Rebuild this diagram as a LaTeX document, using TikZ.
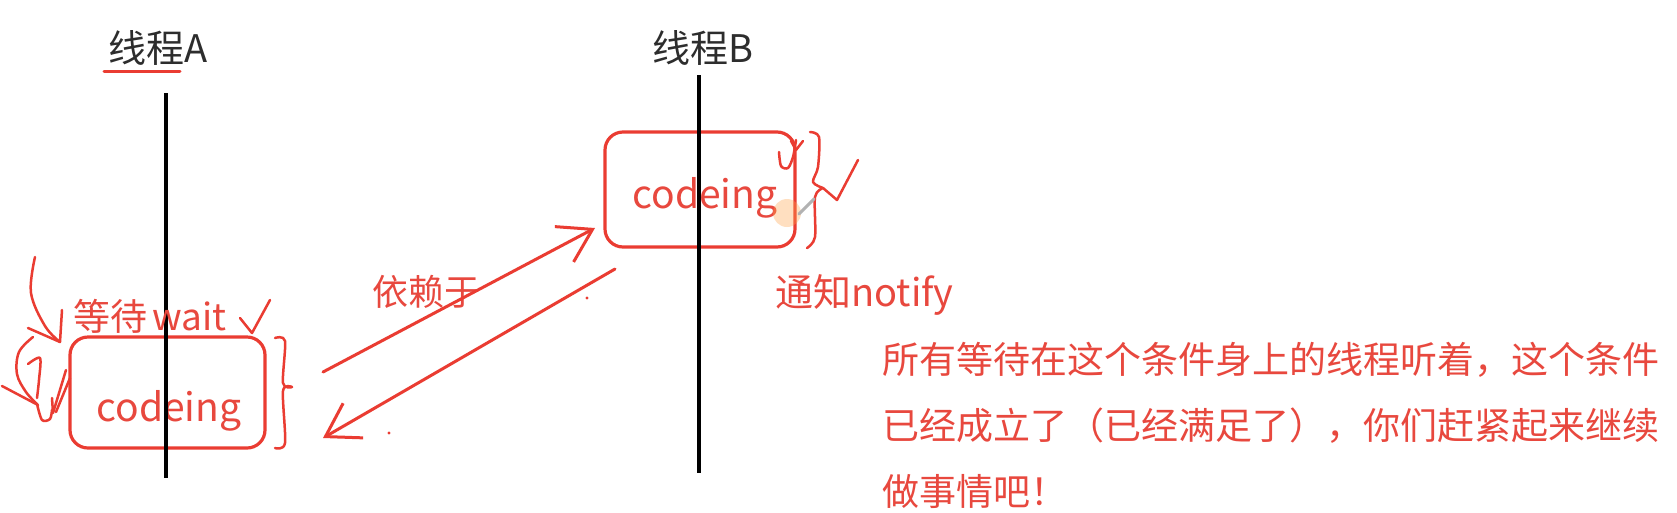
\documentclass[tikz,border=0pt]{standalone}
\usepackage{fontspec}
\setmainfont{Noto Sans CJK SC}
\usetikzlibrary{arrows.meta}
\definecolor{pen}{RGB}{234,60,50}
\definecolor{txtred}{RGB}{232,72,62}
\definecolor{dark}{RGB}{45,45,45}
\begin{document}
\begin{tikzpicture}[x=1pt,y=-1pt,
  box/.style={draw=pen, line width=3.2pt, rounded corners=18pt, inner sep=0pt},
  thread/.style={draw=black, line width=3.5pt},
  hand/.style={draw=pen, line width=2.5pt, line cap=round, line join=round},
  lbl/.style={text=txtred, font=\fontsize{38}{44}\selectfont, inner sep=0pt},
  code/.style={text=txtred, font=\fontsize{39}{44}\selectfont, inner sep=0pt, anchor=base},
  ttl/.style={text=dark, font=\fontsize{38}{44}\selectfont, inner sep=0pt, anchor=base},
  para/.style={text=txtred, font=\fontsize{37}{44}\selectfont, inner sep=0pt, anchor=base west},
  barbarrow/.style={draw=pen, line width=3pt, line cap=round, -{Straight Barb[length=32pt,width=40pt,line width=3pt]}}
]
\useasboundingbox (0,0) rectangle (1677,512);
\fill[white] (0,0) rectangle (1677,512);

% titles
\node[ttl] (tA) at (158,62) {线程A};
\node[ttl] (tB) at (703,62) {线程B};
\draw[pen, line width=3pt, line cap=round] (104,71) -- (180,71);

% boxes
\node[box, minimum width=195pt, minimum height=111pt] (boxA) at (167.5,392.5) {};
\node[box, minimum width=190pt, minimum height=115pt] (boxB) at (700,189.5) {};
\node[code] (cA) at (169,421) {codeing};
\node[code] (cB) at (705,208) {codeing};

% thread lines
\coordinate (a1) at (166,93);
\coordinate (a2) at (166,478);
\coordinate (b1) at (699,75);
\coordinate (b2) at (699,473);
\draw[thread] (a1) -- (a2);
\draw[thread] (b1) -- (b2);

% labels
\node[lbl, anchor=base, font=\fontsize{37}{42}\selectfont] (wait) at (150,330) {等待\hspace{5pt}wait};
\node[lbl, anchor=base, font=\fontsize{36}{42}\selectfont] (dep) at (426,305) {依赖于};
\node[lbl, anchor=base west] (notify) at (775,306) {通知notify};
\node[para] (p1) at (882,373) {所有等待在这个条件身上的线程听着，这个条件};
\node[para] (p2) at (882,439) {已经成立了（已经满足了），你们赶紧起来继续};
\node[para] (p3) at (882,505) {做事情吧！};

% arrows between boxes
\coordinate (up0) at (323,372);
\coordinate (up1) at (595,228);
\coordinate (dn0) at (615,269);
\coordinate (dn1) at (323,438);
\draw[barbarrow] (up0) -- (up1);
\draw[barbarrow] (dn0) -- (dn1);
\fill[pen] (587,298) circle (1.6pt);
\fill[pen] (389,433) circle (1.6pt);

% hand annotations near box A
\draw[hand] plot[smooth, tension=0.6] coordinates {(35,257) (31,293) (45,326) (60,342)};
\draw[hand] (62,310) -- (60,342) -- (28,328);
\draw[hand] plot[smooth, tension=0.6] coordinates {(33,337) (19,352) (17,374) (26,392) (37,404)};
\draw[hand] plot[smooth, tension=0.5] coordinates {(28,364) (40,358) (39,380) (37,398)};
\draw[hand] (2,386) -- (38,405);
\draw[hand] plot[smooth, tension=0.5] coordinates {(37,404) (42,420) (50,419) (52,410)};
\draw[hand] (66,370) -- (53,413) -- (52,398);
\draw[hand] (70,378) -- (56,412);
\draw[hand] (240,318) -- (252,333) -- (270,300);
\draw[hand] plot[smooth, tension=0.5] coordinates {(275,338) (285,341) (283,383) (292,387)};
\draw[hand] plot[smooth, tension=0.5] coordinates {(292,387) (283,391) (285,443) (275,448)};

% hand annotations near box B
\draw[hand] plot[smooth, tension=0.5] coordinates {(810,132) (819,137) (818,167) (813,182) (823,188)};
\draw[hand] plot[smooth, tension=0.5] coordinates {(823,188) (815,197) (815,237) (807,248)};
\draw[hand] (823,188) -- (837,200) -- (858,160);
\draw[hand] plot[smooth, tension=0.5] coordinates {(779,152) (781,166) (788,168) (793,157) (796,140)};
\draw[hand] (791,141) -- (796,150) -- (803,141);
\fill[orange!70, opacity=0.35] (787,213) circle (14pt);
\draw[gray!60, line width=3pt, line cap=round] (799,214) -- (814,199);
\end{tikzpicture}
\end{document}
